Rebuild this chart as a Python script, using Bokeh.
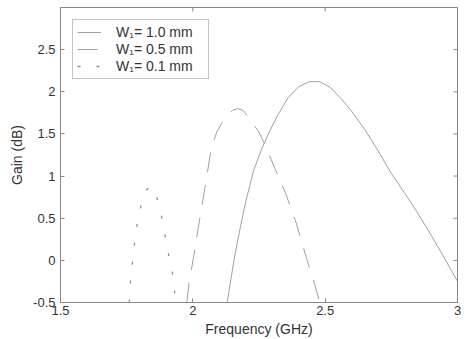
import math
from bokeh.plotting import figure
from bokeh.models import Range1d, FixedTicker, Legend, LegendItem
from bokeh.embed import file_html
from bokeh.resources import INLINE

# W1 = 1.0 mm (solid)
freq_10 = [2.13, 2.145, 2.16, 2.18, 2.20, 2.23, 2.26, 2.29, 2.32, 2.36, 2.40, 2.44,
           2.48, 2.52, 2.56, 2.60, 2.65, 2.70, 2.75, 2.80, 2.85, 2.90, 2.95, 3.00]
gain_10 = [-0.50, -0.20, 0.08, 0.40, 0.70, 1.07, 1.32, 1.53, 1.72, 1.93, 2.06, 2.12,
           2.12, 2.05, 1.92, 1.77, 1.55, 1.30, 1.03, 0.80, 0.56, 0.30, 0.03, -0.25]

# W1 = 0.5 mm (dashed)
freq_05 = [1.977, 1.986, 2.005, 2.027, 2.049, 2.068, 2.09, 2.11, 2.13, 2.15, 2.17,
           2.19, 2.21, 2.25, 2.28, 2.31, 2.35, 2.39, 2.43, 2.46, 2.48]
gain_05 = [-0.50, -0.27, 0.08, 0.51, 0.92, 1.30, 1.52, 1.63, 1.72, 1.78, 1.80,
           1.78, 1.70, 1.52, 1.32, 1.09, 0.80, 0.45, 0.02, -0.28, -0.50]

# W1 = 0.1 mm (dotted)
freq_01 = [1.76, 1.765, 1.772, 1.78, 1.79, 1.805, 1.82, 1.84, 1.86, 1.88, 1.90,
           1.91, 1.925, 1.935]
gain_01 = [-0.50, -0.24, -0.02, 0.21, 0.44, 0.66, 0.82, 0.88, 0.80, 0.55, 0.22,
           0.04, -0.18, -0.50]

labels = ["W\u2081= 1.0 mm", "W\u2081= 0.5 mm", "W\u2081= 0.1 mm"]
x_ticks = [1.5, 2.0, 2.5, 3.0]
x_tick_labels = ["1.5", "2", "2.5", "3"]
y_ticks = [-0.5, 0.0, 0.5, 1.0, 1.5, 2.0, 2.5]
y_tick_labels = ["-0.5", "0", "0.5", "1", "1.5", "2", "2.5"]
X_MIN, X_MAX = 1.5, 3.0
Y_MIN, Y_MAX = -0.5, 3.0

FONT = "Liberation Sans"
TXT = "#333333"
AX = "#888888"
LINE = "#a0a0a0"

p = figure(width=468, height=339, x_range=Range1d(X_MIN, X_MAX), y_range=Range1d(Y_MIN, Y_MAX),
           output_backend="svg", toolbar_location=None,
           min_border_top=7, min_border_right=11, min_border_left=60, min_border_bottom=37)
p.grid.visible = False
p.outline_line_color = AX
p.background_fill_color = "white"
p.border_fill_color = "white"

r1 = p.line(freq_10, gain_10, line_color=LINE, line_width=1)
r2 = p.line(freq_05, gain_05, line_color=LINE, line_width=1, line_dash="20 13")
r3 = p.line(freq_01, gain_01, line_color="#909090", line_width=1.3, line_dash="3 16")

# inward tick marks on the top and right frame edges
p.scatter(x=x_ticks, y=[Y_MAX] * len(x_ticks), marker="dash", size=8,
          angle=math.pi / 2, line_color=AX, line_width=1)
p.scatter(x=[X_MAX] * len(y_ticks), y=y_ticks, marker="dash", size=8,
          line_color=AX, line_width=1)

def style(ax, ticks, tick_labels):
    ax.ticker = FixedTicker(ticks=ticks)
    ax.major_label_overrides = {t: l for t, l in zip(ticks, tick_labels)}
    ax.major_tick_in = 4
    ax.major_tick_out = 0
    ax.minor_tick_in = 0
    ax.minor_tick_out = 0
    ax.axis_line_color = AX
    ax.major_tick_line_color = AX
    ax.major_label_text_font = FONT
    ax.major_label_text_color = TXT
    ax.major_label_text_font_size = "13px"
    ax.axis_label_text_font = FONT
    ax.axis_label_text_color = TXT
    ax.axis_label_text_font_size = "14px"
    ax.axis_label_text_font_style = "normal"

xa = p.xaxis[0]
ya = p.yaxis[0]
style(xa, x_ticks, x_tick_labels)
style(ya, y_ticks, y_tick_labels)
xa.axis_label = "Frequency (GHz)"
ya.axis_label = "Gain (dB)"
xa.major_label_standoff = 3
xa.axis_label_standoff = 3
ya.major_label_standoff = 5
ya.axis_label_standoff = 5

legend = Legend(items=[LegendItem(label=labels[0], renderers=[r1]),
                       LegendItem(label=labels[1], renderers=[r2]),
                       LegendItem(label=labels[2], renderers=[r3])],
                location="top_left")
legend.margin = 12
legend.padding = 4
legend.spacing = 1
legend.label_height = 14
legend.glyph_height = 14
legend.glyph_width = 24
legend.label_standoff = 15
legend.label_width = 88
legend.label_text_font = FONT
legend.label_text_font_size = "14px"
legend.label_text_color = TXT
legend.border_line_color = AX
legend.background_fill_alpha = 1
p.add_layout(legend)

open("out.html", "w").write(file_html(p, INLINE))
